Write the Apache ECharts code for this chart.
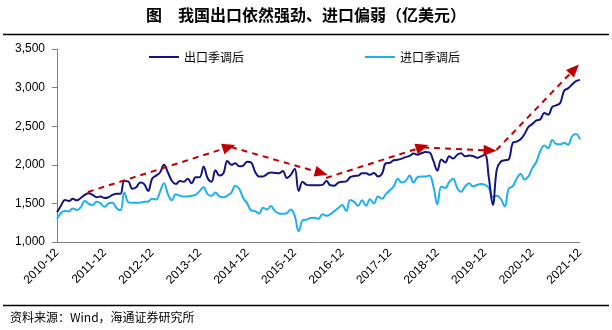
<!DOCTYPE html>
<html>
<head>
<meta charset="utf-8">
<script src="https://cdn.jsdelivr.net/npm/echarts@6/dist/echarts.min.js"></script>
<style>
html,body{margin:0;padding:0;background:#fff;}
#c{width:612px;height:330px;}
</style>
</head>
<body>
<div id="c"></div>
<script>
// ---- data ----
const titleText = '图\u3000我国出口依然强劲、进口偏弱（亿美元）';
const sourceText = '资料来源：Wind，海通证券研究所';
const seriesNames = ['出口季调后', '进口季调后'];
const startYear = 2010, startMonth = 12, monthCount = 133;
const yTicks = [1000, 1500, 2000, 2500, 3000, 3500];

const exportVals = [
1385,1470,1545,1530,1560,1540,1570,1610,1630,1610,1580,1590,
1570,1580,1610,1625,1625,1790,1785,1690,1710,1770,1750,1660,
1820,1860,1900,2000,1900,1790,1750,1790,1780,1820,1760,1840,
1840,1975,1830,1780,1930,1860,1890,2050,2000,2020,1980,1990,
2040,2030,1910,1850,1850,1880,1900,1895,1890,1920,1830,1870,
1950,1660,1780,1740,1735,1735,1735,1740,1790,1735,1730,1770,
1780,1785,1840,1855,1860,1890,1890,1870,1895,1850,1880,2020,
2025,2060,2065,2080,2100,2115,2145,2130,2150,2165,2160,2050,
1925,2070,2030,2110,2080,2130,2150,2110,2120,2115,2090,2110,
2130,1830,1480,1940,2040,2060,2070,2280,2300,2330,2400,2490,
2530,2575,2590,2670,2650,2750,2770,2800,2960,2990,3040,3085,
3100];

const importVals = [
1300,1375,1405,1395,1435,1415,1450,1530,1495,1480,1520,1500,
1455,1500,1510,1440,1410,1640,1515,1507,1507,1510,1520,1525,
1560,1550,1650,1760,1620,1540,1620,1600,1590,1590,1600,1610,
1660,1710,1620,1600,1640,1590,1580,1600,1640,1730,1690,1570,
1500,1410,1400,1370,1445,1420,1465,1400,1370,1365,1375,1420,
1340,1140,1280,1290,1310,1315,1300,1360,1340,1360,1400,1440,
1480,1400,1545,1520,1470,1540,1470,1555,1500,1590,1560,1620,
1670,1720,1820,1770,1790,1860,1770,1840,1850,1850,1860,1720,
1490,1720,1700,1780,1820,1700,1650,1720,1760,1720,1740,1750,
1740,1700,1580,1600,1560,1460,1690,1720,1820,1880,1810,1850,
1960,2040,2180,2250,2215,2320,2270,2265,2285,2260,2370,2400,
2330];

// trend arrows: [monthIndex, value] start and end
const arrowStarts = [[7.8,1648],[43.9,2230],[67.9,1829],[92.4,2224],[110.9,2191]];
const arrowEnds   = [[43.4,2230],[66.7,1894],[92.2,2230],[109.3,2185],[130.6,3240]];

// ---- build ----
const categories = [];
{
  let y = startYear, m = startMonth;
  for (let i = 0; i < monthCount; i++) {
    categories.push(y + '-' + String(m).padStart(2, '0'));
    m++; if (m > 12) { m = 1; y++; }
  }
}

const chart = echarts.init(document.getElementById('c'), null, {renderer: 'canvas'});
const latin = 'Liberation Sans, Arial, sans-serif';
const cjk = '"Noto Sans CJK SC", sans-serif';
const colors = ['#141480', '#1EB0EE'];

const arrowData = arrowStarts.map((s, i) => [{coord: s}, {coord: arrowEnds[i]}]);

chart.setOption({
  animation: false,
  backgroundColor: '#fff',
  graphic: [
    {type: 'text', left: 'center', top: 7, style: {text: titleText, font: 'bold 16px ' + cjk, fill: '#000'}},
    {type: 'line', shape: {x1: 3, y1: 34.5, x2: 609, y2: 34.5}, style: {stroke: '#000', lineWidth: 1.5}},
    {type: 'line', shape: {x1: 3, y1: 305.5, x2: 609, y2: 305.5}, style: {stroke: '#000', lineWidth: 1.5}},
    {type: 'text', left: 10, top: 311, style: {text: sourceText, font: '12px ' + cjk, fill: '#000'}}
  ],
  legend: {
    data: seriesNames.map((n, i) => ({name: n, icon: 'rect', itemStyle: {color: colors[i]}})),
    left: 144, top: 46,
    itemWidth: 30, itemHeight: 2, itemGap: 121,
    textStyle: {fontFamily: cjk, fontSize: 12, color: '#000'}
  },
  grid: {left: 57, right: 32, top: 49, bottom: 88, containLabel: false},
  xAxis: [{
    type: 'category',
    data: categories,
    boundaryGap: false,
    axisLine: {lineStyle: {color: '#808080', width: 1}},
    axisTick: {show: false},
    axisLabel: {interval: 11, rotate: 45, margin: 9, fontFamily: latin, fontSize: 12, color: '#000'},
    splitLine: {show: false}
  }, {
    type: 'value', min: 0, max: monthCount - 1, show: false
  }],
  yAxis: {
    type: 'value', min: yTicks[0], max: yTicks[yTicks.length - 1], interval: 500,
    axisLine: {show: true, lineStyle: {color: '#808080', width: 1}},
    axisTick: {show: true, length: 5, lineStyle: {color: '#808080'}},
    axisLabel: {margin: 12, fontFamily: latin, fontSize: 12, color: '#000',
      formatter: v => v.toLocaleString('en-US')},
    splitLine: {show: false}
  },
  series: [
    {name: seriesNames[0], type: 'line', data: exportVals, smooth: 0.4, symbol: 'none',
     lineStyle: {color: colors[0], width: 2}, itemStyle: {color: colors[0]}, z: 3},
    {name: seriesNames[1], type: 'line', data: importVals, smooth: 0.4, symbol: 'none',
     lineStyle: {color: colors[1], width: 2}, itemStyle: {color: colors[1]}, z: 2},
    {name: 'arrows', type: 'line', xAxisIndex: 1, data: [], symbol: 'none', z: 4,
     markLine: {
       silent: true, symbol: ['none', 'triangle'], symbolSize: [11, 13],
       label: {show: false},
       lineStyle: {color: '#C00000', width: 2, type: [6, 5]},
       emphasis: {disabled: true},
       data: arrowData
     }}
  ]
});
</script>
</body>
</html>
